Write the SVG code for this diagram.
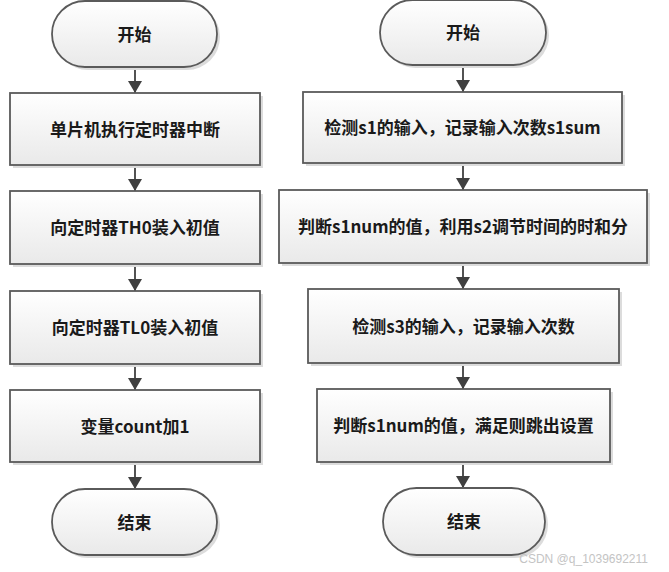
<svg xmlns="http://www.w3.org/2000/svg" width="669" height="572" viewBox="0 0 669 572">
<defs>
<linearGradient id="g" x1="0" y1="0" x2="0" y2="1">
<stop offset="0" stop-color="#ffffff"/>
<stop offset="1" stop-color="#e9e9e9"/>
</linearGradient>
<marker id="arr" viewBox="0 0 12 14" refX="12" refY="7" markerWidth="12" markerHeight="14" markerUnits="userSpaceOnUse" orient="auto">
<path d="M0,0 L12,7 L0,14 Z" fill="#404040"/>
</marker>
</defs>
<style>
.shape{fill:url(#g);stroke:#5a5a5a;stroke-width:1.8}
.shadow{fill:#dcdcdc}
.t{font-family:"Noto Sans CJK SC","Noto Sans",sans-serif;font-size:17px;font-weight:bold;fill:#1a1a1a;text-anchor:middle;dominant-baseline:central}
.c{stroke:#404040;stroke-width:1.8;fill:none;marker-end:url(#arr)}
</style>
<rect width="669" height="572" fill="#ffffff"/>
<g id="connectors">
<line class="c" x1="135" y1="67" x2="135" y2="93"/>
<line class="c" x1="135" y1="165" x2="135" y2="191"/>
<line class="c" x1="135" y1="264" x2="135" y2="291"/>
<line class="c" x1="135" y1="364" x2="135" y2="390"/>
<line class="c" x1="135" y1="462" x2="135" y2="489"/>
<line class="c" x1="463" y1="65" x2="463" y2="92"/>
<line class="c" x1="463" y1="163" x2="463" y2="190"/>
<line class="c" x1="463" y1="263" x2="463" y2="289"/>
<line class="c" x1="463" y1="363" x2="463" y2="389"/>
<line class="c" x1="463" y1="462" x2="463" y2="488"/>
</g>
<g id="L0">
<rect class="shadow" x="55" y="4" width="165" height="66" rx="33"/>
<rect class="shape" x="52" y="1" width="165" height="66" rx="33"/>
<text class="t" x="134.5" y="33">开始</text>
</g>
<g id="L1">
<rect class="shadow" x="13" y="96" width="250" height="72"/>
<rect class="shape" x="10" y="93" width="250" height="72"/>
<text class="t" x="135" y="128">单片机执行定时器中断</text>
</g>
<g id="L2">
<rect class="shadow" x="13" y="194" width="250" height="73"/>
<rect class="shape" x="10" y="191" width="250" height="73"/>
<text class="t" x="135" y="226.5">向定时器TH0装入初值</text>
</g>
<g id="L3">
<rect class="shadow" x="13" y="294" width="250" height="73"/>
<rect class="shape" x="10" y="291" width="250" height="73"/>
<text class="t" x="135" y="326.5">向定时器TL0装入初值</text>
</g>
<g id="L4">
<rect class="shadow" x="13" y="393" width="250" height="72"/>
<rect class="shape" x="10" y="390" width="250" height="72"/>
<text class="t" x="135" y="425">变量count加1</text>
</g>
<g id="L5">
<rect class="shadow" x="55" y="492" width="165" height="66" rx="33"/>
<rect class="shape" x="52" y="489" width="165" height="66" rx="33"/>
<text class="t" x="134.5" y="521">结束</text>
</g>
<g id="R0">
<rect class="shadow" x="383" y="3" width="166" height="65" rx="32.5"/>
<rect class="shape" x="380" y="0" width="166" height="65" rx="32.5"/>
<text class="t" x="463" y="31.5">开始</text>
</g>
<g id="R1">
<rect class="shadow" x="306" y="95" width="319" height="71"/>
<rect class="shape" x="303" y="92" width="319" height="71"/>
<text class="t" x="462.5" y="126.5">检测s1的输入，记录输入次数s1sum</text>
</g>
<g id="R2">
<rect class="shadow" x="282" y="193" width="368" height="73"/>
<rect class="shape" x="279" y="190" width="368" height="73"/>
<text class="t" x="463" y="225.5">判断s1num的值，利用s2调节时间的时和分</text>
</g>
<g id="R3">
<rect class="shadow" x="311" y="292" width="311" height="74"/>
<rect class="shape" x="308" y="289" width="311" height="74"/>
<text class="t" x="463.5" y="325">检测s3的输入，记录输入次数</text>
</g>
<g id="R4">
<rect class="shadow" x="320" y="392" width="293" height="73"/>
<rect class="shape" x="317" y="389" width="293" height="73"/>
<text class="t" x="463.5" y="424.5">判断s1num的值，满足则跳出设置</text>
</g>
<g id="R5">
<rect class="shadow" x="386" y="491" width="162" height="67" rx="33.5"/>
<rect class="shape" x="383" y="488" width="162" height="67" rx="33.5"/>
<text class="t" x="464" y="520.5">结束</text>
</g>
<text x="648" y="563" font-family="Liberation Sans, sans-serif" font-size="12" fill="#c4c4c4" text-anchor="end">CSDN @q_1039692211</text>
</svg>
